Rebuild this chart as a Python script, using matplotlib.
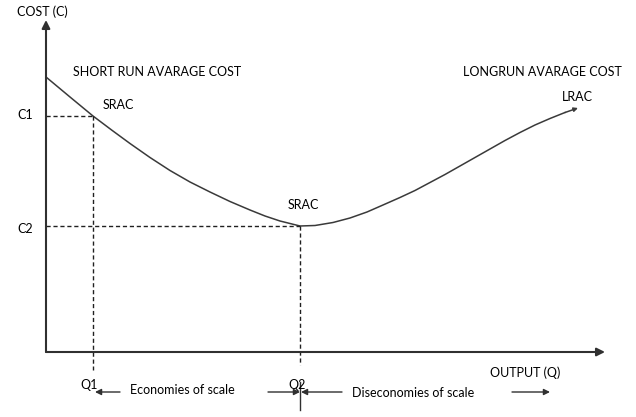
import matplotlib
matplotlib.use("Agg")
import matplotlib.pyplot as plt

plt.rcParams['font.family'] = ['Lato', 'DejaVu Sans']

# long run average cost curve (output Q, cost C)
q_vals = [0, 24, 47, 66, 84, 104, 124, 144, 164, 184, 204, 219, 234, 244, 254,
          269, 287, 304, 321, 337, 354, 369, 384, 399, 414, 429, 444, 459, 474, 489, 504, 519, 532]
c_vals = [275, 255, 236, 221.7, 208.5, 194.5, 181.5, 170, 160, 150.5, 142, 136, 131, 128.5, 126,
          126.5, 129.5, 134, 140, 147, 154.5, 161.5, 169.5, 177.5, 186, 194.5, 203, 211.5, 219.5, 227, 233.5, 239.5, 244]

q1, q2 = 47, 254
c1, c2 = 236, 126
y_top = 332
x_end = 559

col = '#3a3a3a'
fig = plt.figure(figsize=(6.36, 4.17), dpi=100)
ax = fig.add_axes([0, 0, 1, 1])
ax.set_xlim(-46, 590)
ax.set_ylim(-65, 352)
ax.axis('off')

# axes with arrows
ax.annotate('', xy=(0, y_top), xytext=(0, 0),
            arrowprops=dict(arrowstyle='-|>', color='#303030', lw=1.5, mutation_scale=12, shrinkA=0, shrinkB=0))
ax.annotate('', xy=(x_end, 0), xytext=(0, 0),
            arrowprops=dict(arrowstyle='-|>', color='#303030', lw=1.5, mutation_scale=12, shrinkA=0, shrinkB=0))

# cost curve
ax.plot(q_vals[:-1], c_vals[:-1], color=col, lw=1.1, solid_joinstyle='round')
ax.annotate('', xy=(q_vals[-1], c_vals[-1]), xytext=(q_vals[-2], c_vals[-2]),
            arrowprops=dict(arrowstyle='-|>', color=col, lw=1.1, mutation_scale=6, shrinkA=0, shrinkB=0))

# dashed guides
ax.plot([0, q1], [c1, c1], ls=(0, (3, 2)), color='#202020', lw=1)
ax.plot([q1, q1], [c1, -18], ls=(0, (3, 2)), color='#202020', lw=1)
ax.plot([0, q2], [c2, c2], ls=(0, (3, 2)), color='#202020', lw=1)
ax.plot([q2, q2], [c2, -13], ls=(0, (3, 2)), color='#202020', lw=1)

fs = 9
ax.text(-29, 340, 'COST (C)', fontsize=fs, va='center')
ax.text(-29, c1 + 1, 'C1', fontsize=fs, va='center')
ax.text(-29, c2 - 3, 'C2', fontsize=fs, va='center')
ax.text(27, 280, 'SHORT RUN AVARAGE COST', fontsize=fs, va='center')
ax.text(57, 247, 'SRAC', fontsize=fs, va='center')
ax.text(242, 147, 'SRAC', fontsize=fs, va='center')
ax.text(417, 280, 'LONGRUN AVARAGE COST', fontsize=fs, va='center')
ax.text(516, 255, 'LRAC', fontsize=fs, va='center')
ax.text(444, -21, 'OUTPUT (Q)', fontsize=fs, va='center')
ax.text(q1 - 13, -33, 'Q1', fontsize=fs, va='center')
ax.text(q2 - 12, -33, 'Q2', fontsize=fs, va='center')
ax.text(84, -38, 'Economies of scale', fontsize=fs, va='center')
ax.text(306, -41, 'Diseconomies of scale', fontsize=fs, va='center')

# scale arrows along the bottom
ay = -40
ap = dict(arrowstyle='-|>', color='#303030', lw=1, mutation_scale=9, shrinkA=0, shrinkB=0)
ax.annotate('', xy=(q1 + 2, ay), xytext=(74, ay), arrowprops=ap)
ax.annotate('', xy=(q2, ay), xytext=(222, ay), arrowprops=ap)
ax.annotate('', xy=(q2 + 1, ay), xytext=(296, ay), arrowprops=ap)
ax.annotate('', xy=(504, ay), xytext=(466, ay), arrowprops=ap)
ax.plot([q2, q2], [-30, -58], color='#303030', lw=1)

fig.savefig('out.png', dpi=100)
